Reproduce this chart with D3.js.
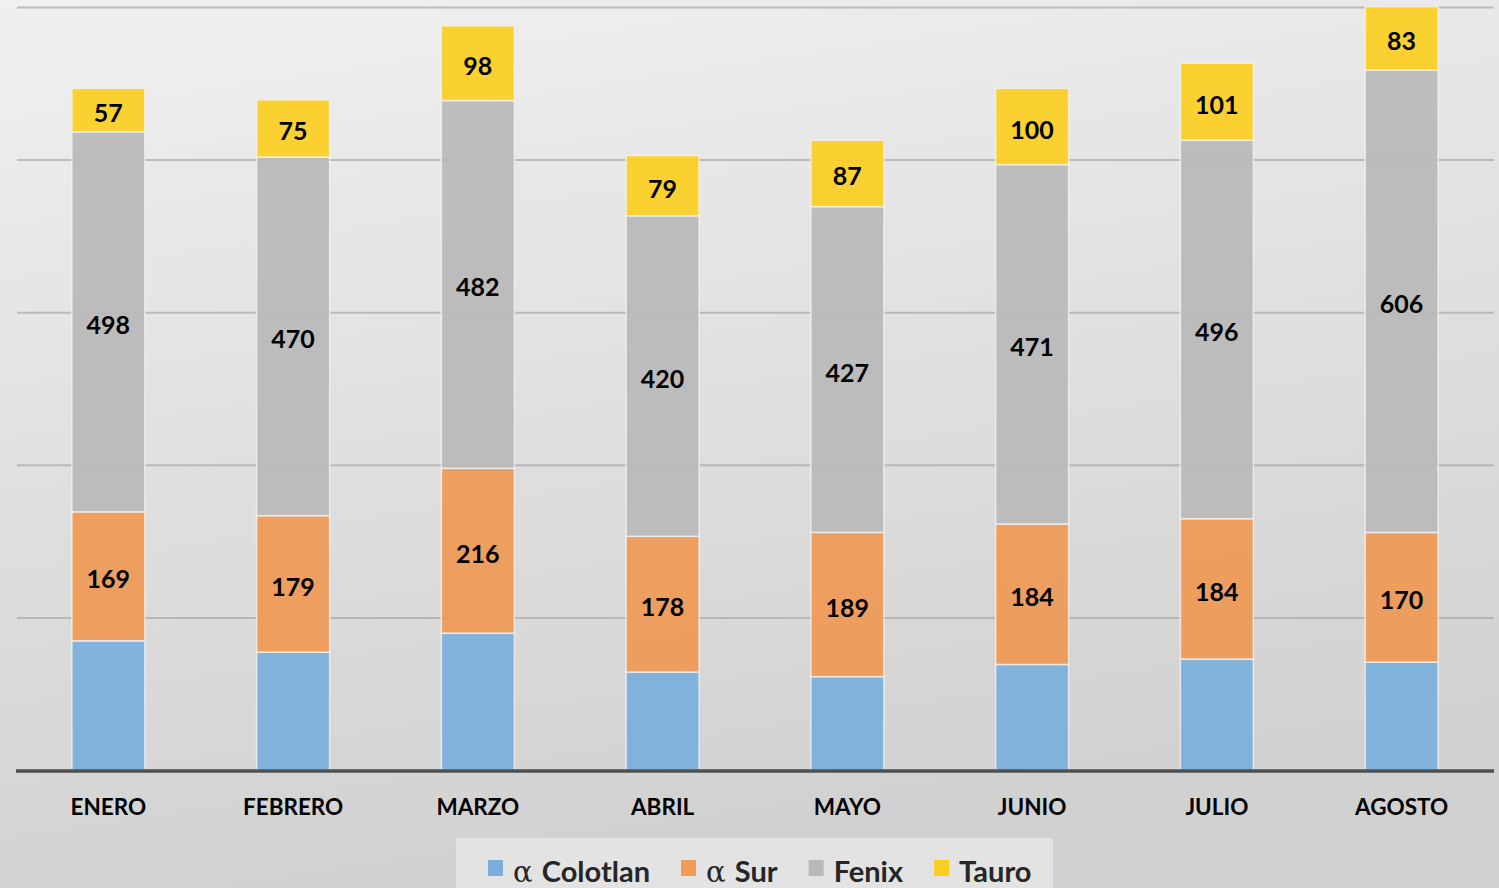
<!DOCTYPE html>
<html lang="es">
<head>
  <meta charset="utf-8">
  <style>
    body { margin: 0; background: #e0e0e0; }
    svg { display: block; }
    text { font-family: Lato, "Open Sans", sans-serif; font-weight: 700; fill: #000; }
  </style>
</head>
<body>
<script src="https://cdn.jsdelivr.net/npm/d3@7"></script>
<script>

  var meses = ["ENERO", "FEBRERO", "MARZO", "ABRIL", "MAYO", "JUNIO", "JULIO", "AGOSTO"];
  var series = ["\u03b1 Colotlan", "\u03b1 Sur", "Fenix", "Tauro"];
  var colotlan = [170, 155, 180, 129, 123, 139, 146, 142];
  var sur = [169, 179, 216, 178, 189, 184, 184, 170];
  var fenix = [498, 470, 482, 420, 427, 471, 496, 606];
  var tauro = [57, 75, 98, 79, 87, 100, 101, 83];
  var yTicks = [0, 200, 400, 600, 800, 1000];
  var colores = ["#7aafdb", "#ef9a55", "#b9b9b9", "#fbcf22"];

  var W = 1499, H = 888;

  var data = meses.map(function(m, i) {
    return { mes: m, s0: colotlan[i], s1: sur[i], s2: fenix[i], s3: tauro[i] };
  });

  var svg = d3.select("body").append("svg")
    .attr("width", W)
    .attr("height", H);

  var grad = svg.append("defs").append("linearGradient")
    .attr("id", "fondo")
    .attr("x1", 0).attr("y1", 0).attr("x2", 0.25).attr("y2", 1);
  grad.append("stop").attr("offset", "0%").attr("stop-color", "#f0f0f0");
  grad.append("stop").attr("offset", "100%").attr("stop-color", "#d1d1d1");

  svg.append("rect")
    .attr("width", W)
    .attr("height", H)
    .attr("fill", "url(#fondo)");

  var x = d3.scaleBand().domain(meses).range([16, 1494]).padding(0);
  var barW = x.bandwidth() * 0.395;

  var y = d3.scaleLinear().domain([0, 1000]).range([770.5, 7.5]);

  // lineas de la grilla
  svg.append("g")
    .selectAll("line")
    .data(yTicks.filter(function(d) { return d > 0; }))
    .enter().append("line")
    .attr("x1", 17)
    .attr("x2", 1494)
    .attr("y1", function(d) { return y(d); })
    .attr("y2", function(d) { return y(d); })
    .attr("stroke", "#a8a8a8")
    .attr("stroke-opacity", 0.7)
    .attr("stroke-width", 2);

  var stack = d3.stack().keys(["s0", "s1", "s2", "s3"])(data);

  var capas = svg.selectAll(".capa")
    .data(stack)
    .enter().append("g")
    .attr("class", "capa")
    .attr("fill", function(d, i) { return colores[i]; });

  capas.selectAll("rect")
    .data(function(d) { return d; })
    .enter().append("rect")
    .attr("x", function(d) { return x(d.data.mes) + x.bandwidth() / 2 - barW / 2; })
    .attr("y", function(d) { return y(d[1]); })
    .attr("width", barW)
    .attr("height", function(d) { return y(d[0]) - y(d[1]); })
    .attr("fill-opacity", 0.93)
    .attr("stroke", "#f3f3f3")
    .attr("stroke-opacity", 0.8)
    .attr("stroke-width", 1.5);

  // etiquetas (la serie Colotlan no lleva)
  capas.filter(function(d, i) { return i > 0; })
    .selectAll("text")
    .data(function(d) { return d; })
    .enter().append("text")
    .attr("x", function(d) { return x(d.data.mes) + x.bandwidth() / 2; })
    .attr("y", function(d) { return (y(d[0]) + y(d[1])) / 2 + 3; })
    .attr("dy", "0.36em")
    .attr("text-anchor", "middle")
    .style("font-size", "25px")
    .text(function(d) { return d[1] - d[0]; });

  // eje x
  svg.append("line")
    .attr("x1", 16)
    .attr("x2", 1494)
    .attr("y1", y(0) + 0.5)
    .attr("y2", y(0) + 0.5)
    .attr("stroke", "#4f4f4f")
    .attr("stroke-width", 3.5);

  svg.append("g")
    .selectAll("text")
    .data(meses)
    .enter().append("text")
    .attr("x", function(d) { return x(d) + x.bandwidth() / 2; })
    .attr("y", 815)
    .attr("text-anchor", "middle")
    .style("font-size", "22.5px")
    .text(function(d) { return d; });

  // leyenda
  svg.append("rect")
    .attr("x", 456)
    .attr("y", 838)
    .attr("width", 597)
    .attr("height", 60)
    .attr("fill", "#e3e3e3");

  var leg = svg.append("g");
  var px = 488;
  series.forEach(function(s, i) {
    var g = leg.append("g").attr("transform", "translate(" + px + ",0)");
    g.append("rect")
      .attr("x", 0)
      .attr("y", 860)
      .attr("width", 15)
      .attr("height", 16)
      .attr("fill", colores[i]);
    var t = g.append("text")
      .attr("x", 25)
      .attr("y", 882)
      .style("font-size", "29px")
      .style("fill", "#262626");
    if (s.charAt(0) == "\u03b1") {
      t.append("tspan")
        .style("font-family", "'DejaVu Serif', serif")
        .style("font-weight", 400)
        .text("\u03b1 ");
      t.append("tspan").text(s.slice(2));
    } else {
      t.text(s);
    }
    px += 25 + t.node().getComputedTextLength() + 31;
  });

</script>
</body>
</html>
